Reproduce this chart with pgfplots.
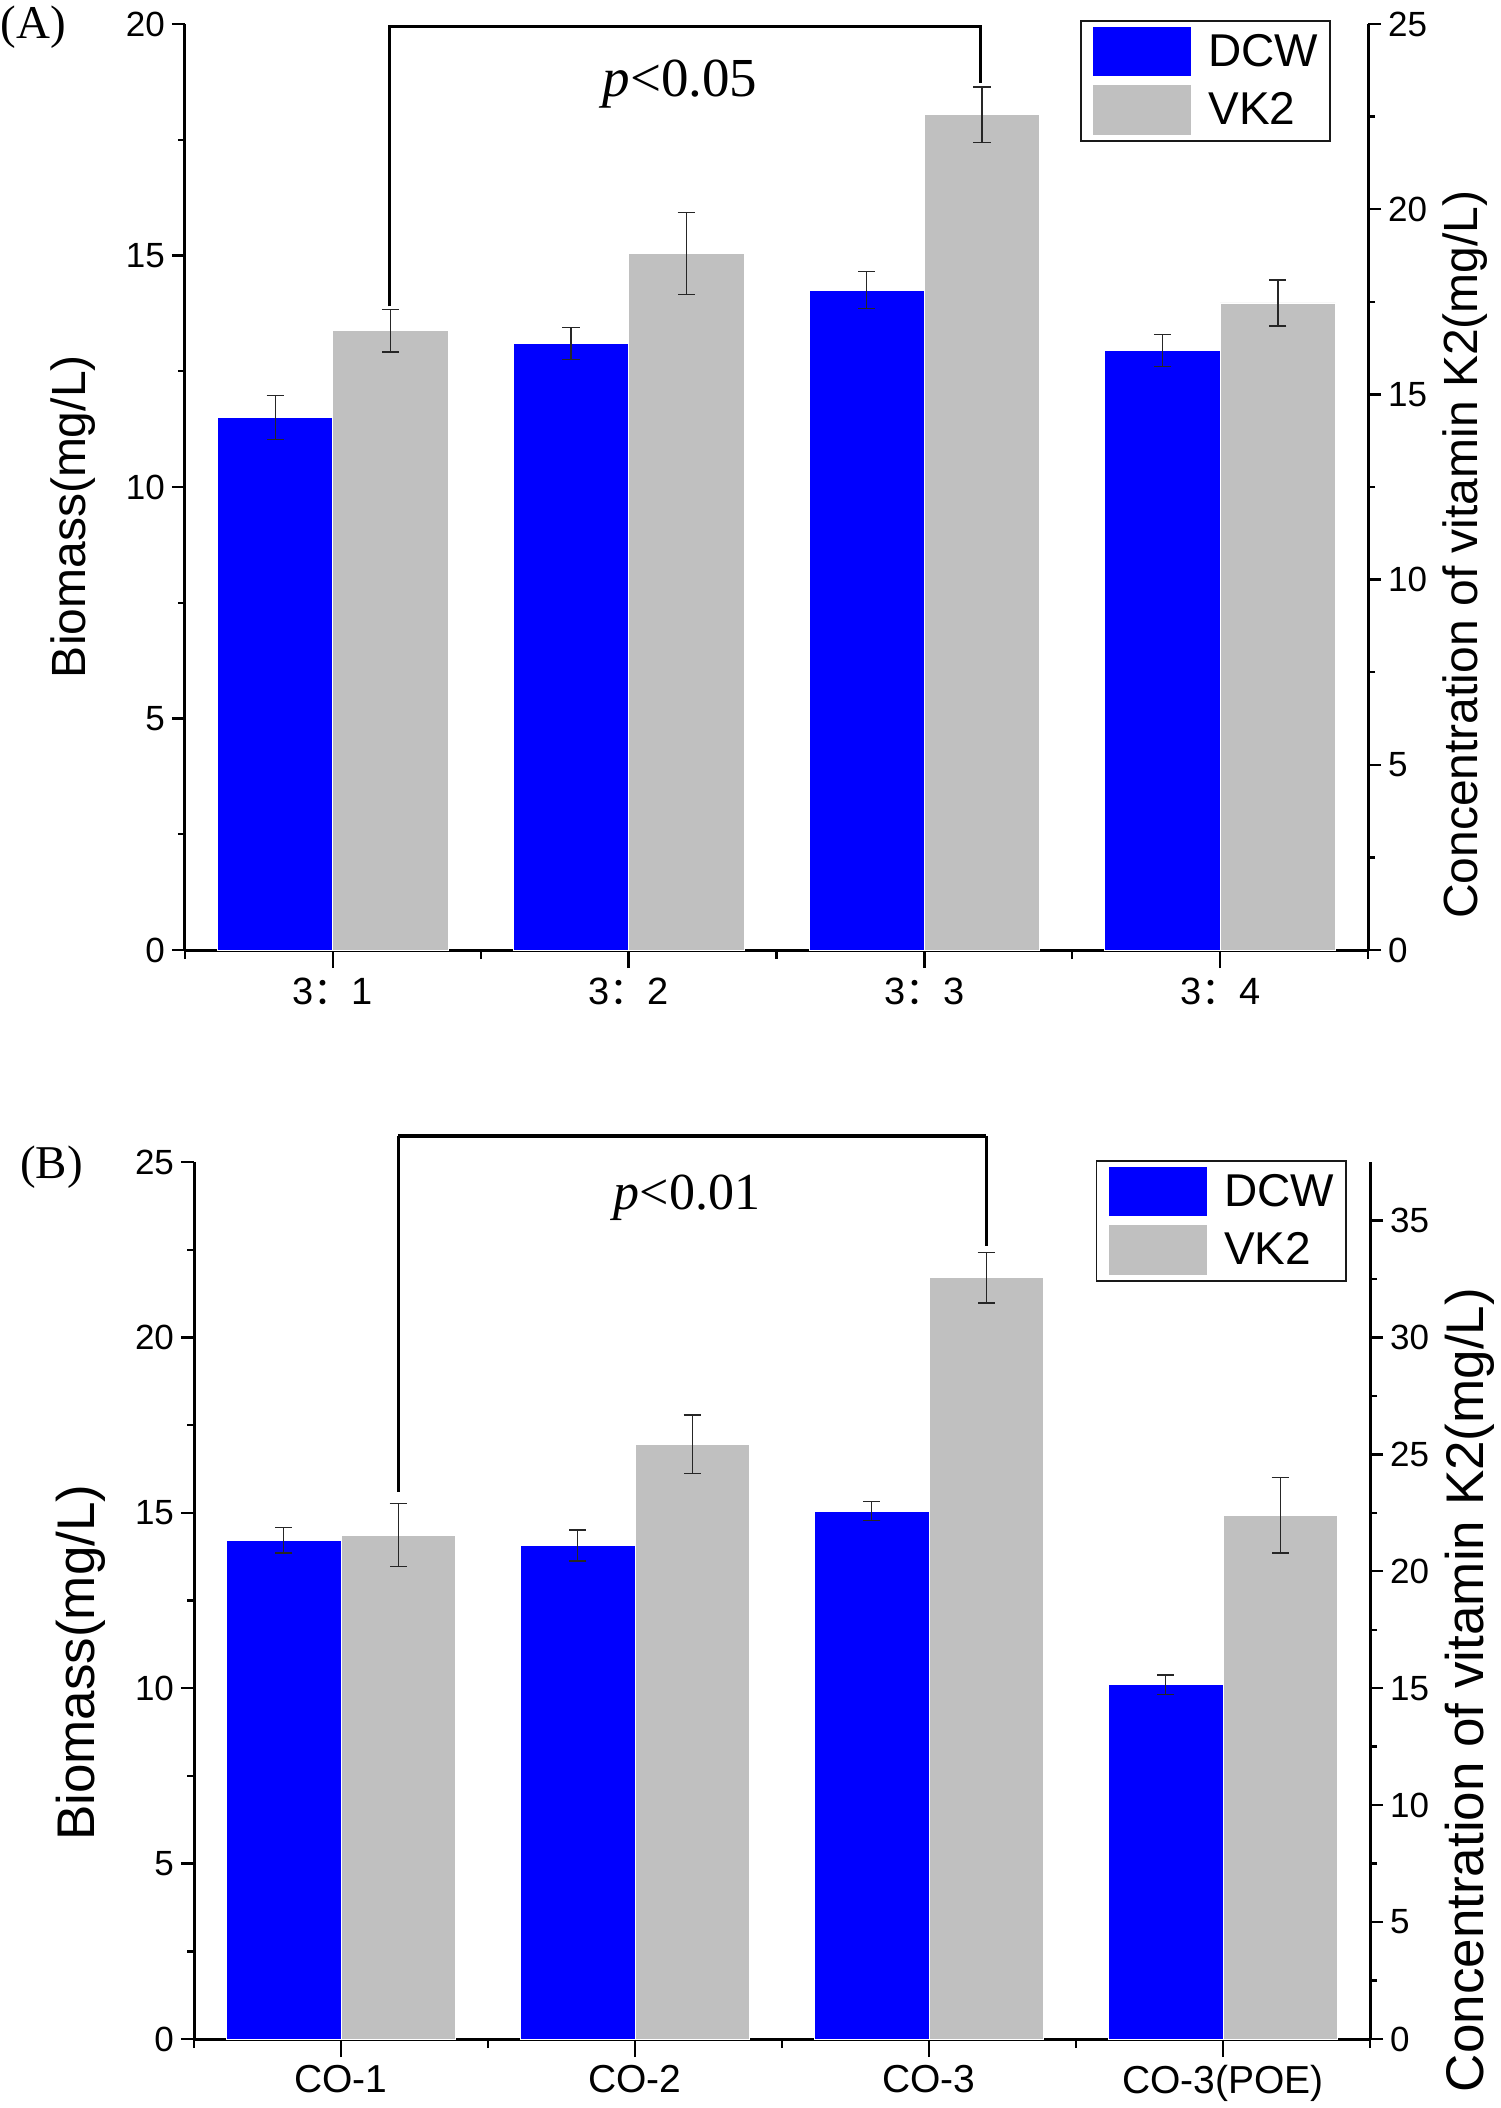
\documentclass[border=0pt]{standalone}
\usepackage{pgfplots}
\pgfplotsset{compat=1.18}
\usepackage{pgfplotstable}
\usepackage{fontspec}
\setmainfont{Liberation Sans}
\newfontfamily\serif{Liberation Serif}
\newfontfamily\cjk{Noto Sans CJK SC}
\definecolor{dcwblue}{RGB}{0,0,255}
\definecolor{vkgray}{RGB}{192,192,192}

% Panel A: DCW (left axis, mg/L)
\pgfplotstableread{
x y e
0.805 11.50 0.48
1.805 13.10 0.35
2.805 14.25 0.40
3.805 12.95 0.35
}\dcwA
% Panel A: VK2 (right axis, mg/L)
\pgfplotstableread{
x y e
1.195 16.72 0.58
2.195 18.80 1.11
3.195 22.55 0.75
4.195 17.47 0.62
}\vkA
% Panel B: DCW
\pgfplotstableread{
x y e
0.805 14.22 0.37
1.805 14.07 0.44
2.805 15.05 0.27
3.805 10.10 0.28
}\dcwB
% Panel B: VK2
\pgfplotstableread{
x y e
1.195 21.55 1.35
2.195 25.43 1.26
3.195 32.56 1.08
4.195 22.40 1.62
}\vkB

\pgfplotsset{
  basestyle/.style={
    scale only axis,
    xmin=0.5, xmax=4.5,
    ymin=0,
    clip=false,
    axis line style={-, line width=1.5pt},
    tick align=outside,
    major tick length=6.5pt,
    minor tick length=3.5pt,
    tick style={black, line width=1.2pt},
    major x tick style={/pgfplots/major tick length=9pt},
    minor x tick style={/pgfplots/minor tick length=4.5pt},
    /pgf/number format/assume math mode=true,
    y tick label style={font=\fontsize{17.5}{20}\selectfont},
    minor y tick num=1,
  },
  barstyle/.style={ybar, bar width=0.39, bar shift=0pt, draw=white, line width=0.4pt,
    error bars/y dir=both, error bars/y explicit,
    error bars/error bar style={black!85, line width=0.7pt},
    error bars/error mark options={rotate=90, mark size=4.3pt, line width=0.7pt, black!85}},
  legimg/.style={legend image code/.code={\fill[#1] (0pt,-12pt) rectangle (48.5pt,12pt);}},
  legbox/.style={legend cell align=left,
    legend style={anchor=north east, draw=black!90, line width=0.8pt,
      font=\fontsize{23}{25}\selectfont, inner xsep=6pt, inner ysep=3pt, row sep=4.5pt,
      nodes={inner sep=0pt},
      /tikz/every odd column/.append style={column sep=8.5pt}}},
}

\begin{document}
\begin{tikzpicture}
\useasboundingbox (0,0) rectangle (750pt,-1054pt);

% ---------------- Panel A ----------------
\begin{axis}[basestyle, name=a1,
  at={(92.5pt,-475pt)}, anchor=south west, width=591.5pt, height=463pt,
  axis x line*=bottom, axis y line*=left,
  ymax=20, ytick={0,5,...,20},
  xtick={1,2,3,4},
  xticklabels={3{\cjk ：}1, 3{\cjk ：}2, 3{\cjk ：}3, 3{\cjk ：}4},
  minor xtick={0.5,1.5,2.5,3.5,4.5},
  x tick label style={font=\fontsize{19}{22}\selectfont, yshift=-4pt},
  ylabel={Biomass(mg/L)},
  ylabel style={font=\fontsize{24}{28}\selectfont, at={(axis description cs:-0.095,0.468)}, anchor=center},
]
\addplot[barstyle, fill=dcwblue] table[x=x, y=y, y error=e] {\dcwA};
\draw[line width=1.5pt] (axis cs:1.19,13.9) -- (axis cs:1.19,19.95) -- (axis cs:3.19,19.95) -- (axis cs:3.19,18.72);
\node[font=\serif\fontsize{27.5}{30}\selectfont, anchor=base] at (axis cs:2.174,18.44) {{\itshape p}<0.05};
\end{axis}

\begin{axis}[basestyle, legbox,
  at={(a1.south west)}, anchor=south west, width=591.5pt, height=463pt,
  axis x line=none, xtick=\empty, axis y line*=right,
  ymax=25, ytick={0,5,...,25},
  ylabel={Concentration of vitamin K2(mg/L)},
  ylabel style={font=\fontsize{24}{28}\selectfont, at={(axis description cs:1.082,0.427)}, anchor=center},
  legend style={at={(rel axis cs:0.9687,1.0043)}},
]
\addlegendimage{legimg=dcwblue}
\addlegendentry{DCW}
\addlegendimage{legimg=vkgray}
\addlegendentry{VK2}
\addplot[barstyle, fill=vkgray, forget plot] table[x=x, y=y, y error=e] {\vkA};
\end{axis}

% ---------------- Panel B ----------------
\begin{axis}[basestyle, name=b1,
  at={(97pt,-1019.5pt)}, anchor=south west, width=588pt, height=438.5pt,
  axis x line*=bottom, axis y line*=left,
  ymax=25, ytick={0,5,...,25},
  xtick={1,2,3,4},
  xticklabels={CO-1, CO-2, CO-3, CO-3(POE)},
  minor xtick={0.5,1.5,2.5,3.5,4.5},
  x tick label style={font=\fontsize{19.5}{22}\selectfont, yshift=-3pt},
  ylabel={Biomass(mg/L)},
  ylabel style={font=\fontsize{26.5}{30}\selectfont, at={(axis description cs:-0.096,0.429)}, anchor=center},
]
\addplot[barstyle, fill=dcwblue] table[x=x, y=y, y error=e] {\dcwB};
\draw[line width=1.3pt] (axis cs:1.195,15.6) -- (axis cs:1.195,25.73);
\draw[line width=2pt] (axis cs:1.195,25.73) -- (axis cs:3.195,25.73);
\draw[line width=1.3pt] (axis cs:3.195,25.73) -- (axis cs:3.195,22.6);
\node[font=\serif\fontsize{26}{29}\selectfont, anchor=base] at (axis cs:2.177,23.64) {{\itshape p}<0.01};
\end{axis}

\begin{axis}[basestyle, legbox,
  at={(b1.south west)}, anchor=south west, width=588pt, height=438.5pt,
  axis x line=none, xtick=\empty, axis y line*=right,
  ymax=37.5, ytick={0,5,...,35},
  ylabel={Concentration of vitamin K2(mg/L)},
  ylabel style={font=\fontsize{26.5}{30}\selectfont, at={(axis description cs:1.085,0.398)}, anchor=center},
  legend style={at={(rel axis cs:0.9804,1.0023)}},
]
\addlegendimage{legimg=dcwblue}
\addlegendentry{DCW}
\addlegendimage{legimg=vkgray}
\addlegendentry{VK2}
\addplot[barstyle, fill=vkgray, forget plot] table[x=x, y=y, y error=e] {\vkB};
\end{axis}

\node[font=\serif\fontsize{23.5}{26}\selectfont] at (16.75pt,-13.5pt) {(A)};
\node[font=\serif\fontsize{23.5}{26}\selectfont] at (25.75pt,-583.5pt) {(B)};
\end{tikzpicture}
\end{document}
